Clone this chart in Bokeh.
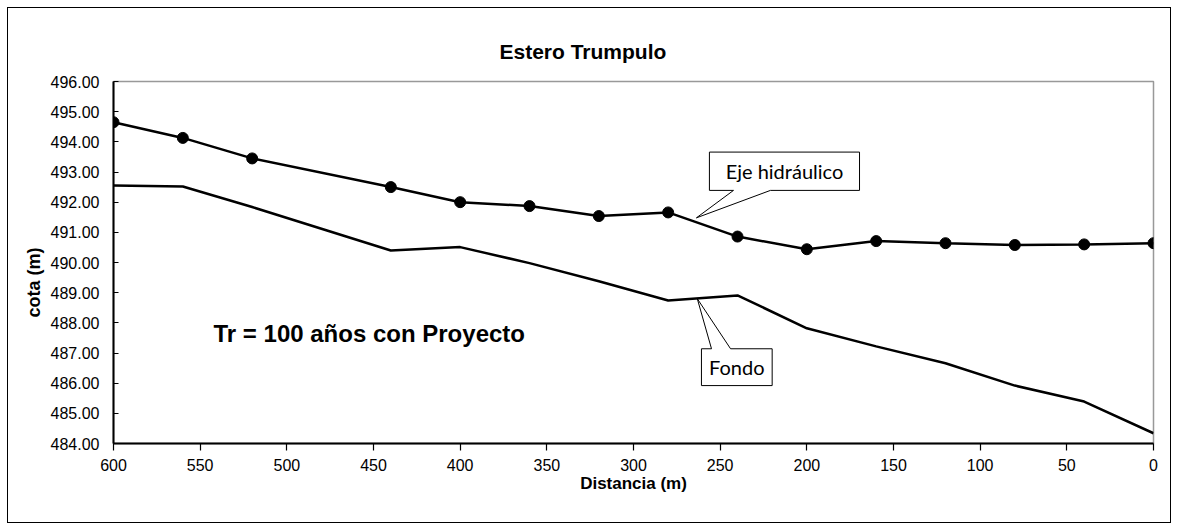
from bokeh.plotting import figure
from bokeh.models import Range1d, FixedTicker, NumeralTickFormatter, Label, ColumnDataSource
from bokeh.embed import file_html
from bokeh.resources import INLINE

# ---- data ----
distancia = [600, 560, 520, 440, 400, 360, 320, 280, 240, 200, 160, 120, 80, 40, 0]
eje_hidraulico = [494.65, 494.13, 493.45, 492.50, 492.00, 491.87, 491.54, 491.66,
                  490.86, 490.44, 490.71, 490.64, 490.58, 490.60, 490.64]
fondo = [492.55, 492.52, 491.84, 490.40, 490.51, 489.98, 489.38, 488.74,
         488.91, 487.82, 487.22, 486.66, 485.92, 485.39, 484.34]
y_ticks = list(range(484, 497))
x_ticks = list(range(0, 601, 50))

FONT = "Liberation Sans"

p = figure(width=1164, height=516, output_backend="svg", toolbar_location=None,
           x_range=Range1d(600, 0), y_range=Range1d(484, 496),
           min_border_left=105, min_border_right=19, min_border_top=73, min_border_bottom=81,
           background_fill_color="white", border_fill_color="white")
p.styles = {"border": "1px solid black", "margin-left": "7px", "margin-top": "7px"}
p.xgrid.visible = False
p.ygrid.visible = False
p.outline_line_color = "#999999"
p.outline_line_width = 1.5

p.title.text = "Estero Trumpulo"
p.title.align = "left"
p.title.text_font = FONT
p.title.text_font_style = "bold"
p.title.text_font_size = "21px"
p.title.text_color = "black"
p.title.offset = 386
p.title.standoff = 38

for ax in (p.xaxis[0], p.yaxis[0]):
    ax.axis_line_color = "black"
    ax.axis_line_width = 2
    ax.major_tick_line_color = "black"
    ax.major_tick_line_width = 1.2
    ax.minor_tick_line_color = None
    ax.major_label_text_font = FONT
    ax.major_label_text_font_size = "16px"
    ax.major_label_text_color = "black"
    ax.axis_label_text_font = FONT
    ax.axis_label_text_font_style = "bold"
    ax.axis_label_text_color = "black"

p.xaxis.ticker = FixedTicker(ticks=x_ticks)
p.xaxis.major_tick_in = 0
p.xaxis.major_tick_out = 7
p.xaxis.major_label_standoff = 8
p.xaxis.axis_label = "Distancia (m)"
p.xaxis.axis_label_standoff = 0
p.xaxis.axis_label_text_font_size = "17px"

p.yaxis.ticker = FixedTicker(ticks=y_ticks)
p.yaxis.formatter = NumeralTickFormatter(format="0.00")
p.yaxis.major_tick_in = 5
p.yaxis.major_tick_out = 0
p.yaxis.major_label_standoff = 14
p.yaxis.axis_label = "cota (m)" + "\u00a0" * 8
p.yaxis.axis_label_standoff = 4
p.yaxis.axis_label_text_font_size = "18px"

src = ColumnDataSource(dict(x=distancia, eje=eje_hidraulico, fondo=fondo))
p.line("x", "fondo", source=src, line_color="black", line_width=2.5)
p.line("x", "eje", source=src, line_color="black", line_width=2.5)
p.scatter("x", "eje", source=src, size=11, marker="circle", fill_color="black", line_color="black")

# callout: Eje hidráulico
p.patch([256.2, 169.6, 169.6, 221.0, 263.7, 242.3, 256.2],
        [493.66, 493.66, 492.39, 492.39, 491.48, 492.39, 492.39],
        fill_color="white", line_color="black", line_width=1)
p.add_layout(Label(x=212.9, y=493.02, text="Eje hidráulico", text_font="Lato",
                   text_font_size="20px", text_align="center", text_baseline="middle",
                   text_color="black"))

# callout: Fondo
p.patch([260.8, 255.0, 263.2, 244.0, 220.0, 220.0, 260.8],
        [487.14, 487.14, 488.80, 487.14, 487.14, 485.92, 485.92],
        fill_color="white", line_color="black", line_width=1)
p.add_layout(Label(x=240.4, y=486.53, text="Fondo", text_font="Lato",
                   text_font_size="20px", text_align="center", text_baseline="middle",
                   text_color="black"))

# scenario label
p.add_layout(Label(x=542.3, y=487.65, text="Tr = 100 años con Proyecto", text_font=FONT,
                   text_font_style="bold", text_font_size="24px", text_align="left",
                   text_baseline="middle", text_color="black"))

open("out.html", "w").write(file_html(p, INLINE))
